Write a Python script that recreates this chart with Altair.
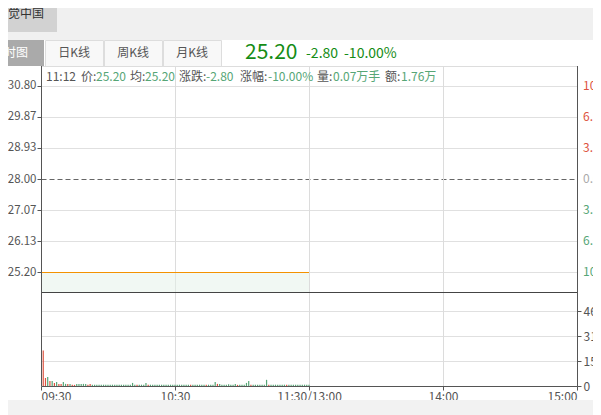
import altair as alt
import pandas as pd

FONT = "Noto Sans CJK SC"
RED = "#dd5340"
GREEN = "#56a676"
FLAT = "#aaaaaa"
TXT = "#555555"

# ---------------- data ----------------
price_minutes = [0, 120]
price_values = [25.20, 25.20]
price_domain = [24.598, 31.402]
price_ticks = [25.20, 26.1333, 27.0667, 28.00, 28.9333, 29.8667, 30.80]
pct_labels = ["10.00%", "6.68%", "3.32%", "0.00%", "3.32%", "6.68%", "10.00%"]
pct_side = ["down", "down", "down", "flat", "up", "up", "up"]

vol_ticks = [0, 15.4, 30.8, 46.2]
vol_domain = [0, 57.904]
vol_minutes = list(range(1, 121))
vol_wan = [
    21.9, 5.0, 5.6, 3.1, 3.1, 1.9, 2.5, 1.3, 1.3, 2.5,
    1.3, 1.3, 1.3, 0.7, 0.7, 1.3, 1.3, 1.3, 1.3, 1.3,
    0.7, 1.3, 0.8, 0.8, 0.8, 0.8, 0.8, 0.8, 0.8, 0.8,
    0.8, 0.8, 0.8, 0.8, 0.8, 0.8, 0.8, 0.8, 0.8, 0.8,
    1.9, 0.8, 0.7, 0.8, 0.8, 0.8, 1.9, 0.7, 0.8, 0.8,
    0.8, 0.8, 0.8, 0.8, 0.8, 0.8, 0.8, 0.8, 0.8, 0.8,
    0.8, 0.8, 0.8, 0.8, 0.8, 0.8, 0.7, 0.8, 0.8, 0.8,
    0.8, 0.8, 0.8, 0.7, 0.8, 0.8, 0.8, 2.5, 1.3, 1.3,
    0.8, 0.8, 0.8, 1.1, 0.8, 0.8, 1.3, 0.7, 0.8, 0.8,
    0.8, 1.9, 3.1, 0.7, 0.8, 0.8, 0.8, 0.8, 0.8, 0.8,
    3.8, 0.7, 0.8, 0.8, 0.8, 0.8, 0.8, 0.8, 0.8, 0.7,
    0.8, 0.8, 0.8, 0.8, 0.8, 0.8, 0.8, 0.8, 0.8, 0.8,
]
vol_dir = list(
    "uudududuud" "duduuddddd" "uudddddddd" "dddddddddd"
    "dduddddudd" "dddddddddd" "dddddduddd" "ddduddddud"
    "dddddddudd" "dddudddddd" "dudddddddu" "dddddddddd"
)

x_ticks = [0, 60, 120, 180, 240]
x_labels = ["09:30", "10:30", "11:30/13:00", "14:00", "15:00"]

info_parts = ["11:12", "价:", "25.20", "均:", "25.20", "涨跌:", "-2.80",
              "涨幅:", "-10.00%", "量:", "0.07万手", "额:", "1.76万"]
info_kinds = ["l", "l", "v", "l", "v", "l", "v", "l", "v", "l", "v", "l", "v"]

tab_names = ["日K线", "周K线", "月K线"]
head_price = "25.20"
head_change = "-2.80"
head_pct = "-10.00%"

# ---------------- layout (pixels, plot-area coordinates) ----------------
W, H = 536, 320
info_x = [5, 40, 55, 89, 104, 138, 165, 199, 227, 276, 292, 344, 360]
tab_x = [(4, 62), (63, 121), (122, 180)]

# ---------------- scales & axes ----------------
side_scale = alt.Scale(domain=["up", "down", "flat"], range=[RED, GREEN, FLAT])
xscale = alt.Scale(domain=[0, 240], nice=False, zero=False, padding=0)
lab_expr = ""
for v, l in zip(x_ticks, x_labels):
    lab_expr += f"datum.value == {v} ? '{l}' : "
lab_expr += "''"
x_axis = alt.Axis(values=x_ticks, labelExpr=lab_expr, title=None, grid=False,
                  domainColor=TXT, tickColor=TXT, tickSize=4,
                  labelColor=TXT, labelFontSize=12, labelFont=FONT, labelFlush=True,
                  labelPadding=1, labelOverlap=False, zindex=0)

pscale = alt.Scale(domain=price_domain, range=[226, 0], nice=False, zero=False)
price_axis = alt.Axis(values=price_ticks, format=".2f", orient="left", title=None, grid=True,
                      gridColor={"condition": {"test": "datum.value === 28", "value": "#666666"},
                                 "value": "#e0e0e0"},
                      gridDash={"condition": {"test": "datum.value === 28", "value": [5, 3]},
                                "value": []},
                      domainColor=TXT, tickColor=TXT, tickSize=4, labelColor=TXT,
                      labelFontSize=11.5, labelFont=FONT, labelPadding=1, zindex=0)

vscale = alt.Scale(domain=vol_domain, range=[320, 226], nice=False, zero=True)
vol_axis = alt.Axis(values=vol_ticks,
                    labelExpr="datum.value == 0 ? '0' : format(datum.value, '.0f') + '万'",
                    orient="right", title=None, grid=True, gridColor="#e0e0e0",
                    domainColor=TXT, tickColor=TXT, tickSize=4, labelColor=TXT,
                    labelFontSize=12, labelFont=FONT, labelPadding=2, zindex=0)

X = alt.X("t:Q", scale=xscale, axis=x_axis)
P = alt.Y("p:Q", scale=pscale, axis=price_axis)

# ---------------- price panel ----------------
price_df = pd.DataFrame({"t": price_minutes, "p": price_values})
pct_df = pd.DataFrame({"p": price_ticks, "label": pct_labels, "side": pct_side})

vgrid = alt.Chart(pd.DataFrame({"t": x_ticks[1:-1]})).mark_rule(
    color="#dcdcdc", strokeWidth=1, xOffset=0.5).encode(x=X)
area = alt.Chart(price_df).mark_area(color="#e3f1e8", opacity=0.5, yOffset=0.5).encode(
    x=X, y=P, y2=alt.Y2Datum(price_domain[0]))
line = alt.Chart(price_df).mark_line(color="#f39200", strokeWidth=1, yOffset=0.5).encode(x=X, y=P)
sep = alt.Chart(price_df).mark_rule(color="#444444", strokeWidth=1, yOffset=0.5).encode(
    y=alt.YDatum(price_domain[0], type="quantitative", scale=pscale, axis=price_axis))
edges = alt.Chart(pd.DataFrame({"t": [x_ticks[0], x_ticks[-1]]})).mark_rule(
    color=TXT, strokeWidth=1, xOffset=0.5).encode(x=X)
pct_text = alt.Chart(pct_df).mark_text(align="left", baseline="middle", fontSize=12, font=FONT).encode(
    x=alt.value(542), y=P, text="label:N",
    color=alt.Color("side:N", scale=side_scale, legend=None))
price_layer = alt.layer(vgrid, area, line, sep, edges, pct_text)

# ---------------- volume panel ----------------
vol_df = pd.DataFrame({"t": vol_minutes, "v": vol_wan,
                       "side": ["up" if d == "u" else "down" for d in vol_dir]})
bars = alt.Chart(vol_df).mark_bar(width=1.2).encode(
    x=X, y=alt.Y("v:Q", scale=vscale, axis=vol_axis),
    color=alt.Color("side:N", scale=side_scale, legend=None))
vol_layer = alt.layer(bars)

# ---------------- page chrome ----------------
one = pd.DataFrame({"a": [0]})


def rect(x, x2, y, y2, fill, stroke=None):
    kw = {"fill": fill}
    if stroke:
        kw.update(stroke=stroke, strokeWidth=1)
    return alt.Chart(one).mark_rect(**kw).encode(
        x=alt.value(x), x2=alt.value(x2), y=alt.value(y), y2=alt.value(y2))


def txt(s, x, y, color, size=12, align="left", weight="normal"):
    return alt.Chart(one).mark_text(text=s, align=align, baseline="middle", fontSize=size,
                                    font=FONT, color=color, fontWeight=weight).encode(
        x=alt.value(x), y=alt.value(y))


chrome = [
    rect(-41, 560, -66, -26, "#f0f0f0"),
    rect(-41, 16, -66, -34, "#d2d2d2"),
    txt("视觉中国", -21, -52, "#333333", align="center"),
    rect(-41, 3, -26, 0, "#aaaaaa"),
    txt("分时图", -31, -13, "#ffffff", align="center"),
]
for name, (a, b) in zip(tab_names, tab_x):
    chrome.append(rect(a + 0.5, b + 0.5, -25.5, 0.5, "#f8f8f8", "#dddddd"))
    chrome.append(txt(name, (a + b) / 2, -13, "#555555", align="center"))
chrome += [
    txt(head_price, 204, -13, "#158c15", size=21),
    txt(head_change, 265, -12, "#158c15", size=14),
    txt(head_pct, 303, -12, "#158c15", size=14),
]
for s, k, x in zip(info_parts, info_kinds, info_x):
    chrome.append(txt(s, x, 11, "#555555" if k == "l" else GREEN))
chrome.append(rect(-41, 560, 334, 349, "#f2f2f2"))

chart = alt.layer(price_layer, vol_layer, *chrome).resolve_scale(
    y="independent", color="shared"
).properties(
    width=W, height=H,
    padding={"left": 33, "top": 58, "right": 16, "bottom": 29},
    autosize=alt.AutoSizeParams(type="none"),
).configure_view(stroke=None).configure(background="white")

chart.save("out.html", embed_options={"renderer": "svg", "actions": False})
